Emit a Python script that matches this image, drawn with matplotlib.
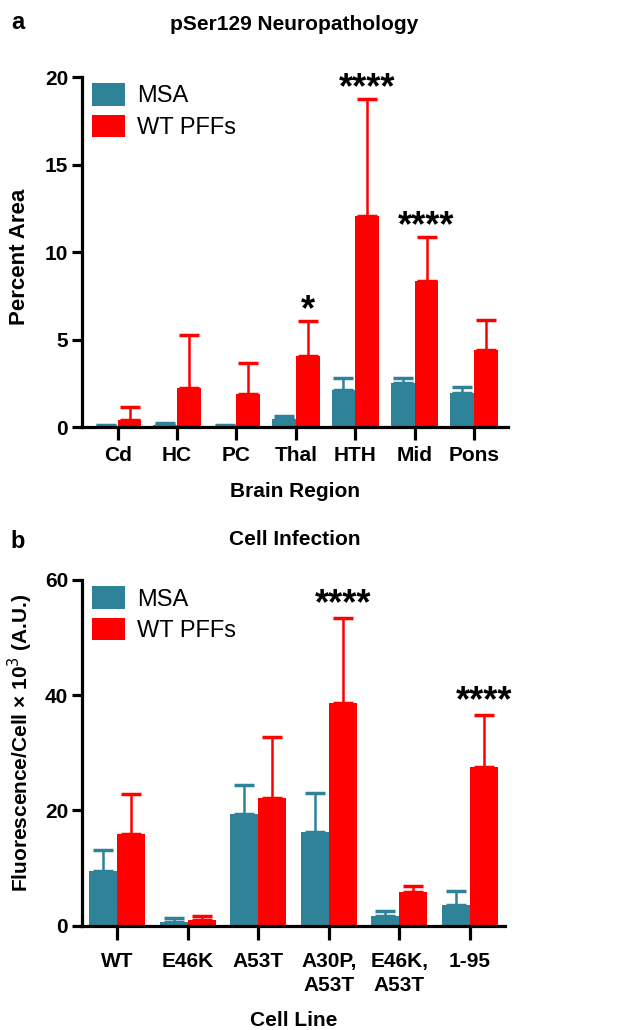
import numpy as np
import matplotlib.pyplot as plt

plt.rcParams['font.family'] = ['Liberation Sans', 'DejaVu Sans']

TEAL = '#2E8399'
RED = '#FF0000'

# panel a: pSer129 neuropathology
regions = ['Cd', 'HC', 'PC', 'Thal', 'HTH', 'Mid', 'Pons']
msa_a = [0.05, 0.1, 0.05, 0.44, 2.1, 2.5, 1.96]
msa_a_err = [0.05, 0.12, 0.07, 0.19, 0.68, 0.32, 0.34]
pff_a = [0.38, 2.21, 1.89, 4.08, 12.06, 8.34, 4.4]
pff_a_err = [0.76, 3.05, 1.78, 1.98, 6.66, 2.5, 1.71]
stars_a = ['', '', '', '*', '****', '****', '']

# panel b: cell infection
cell_lines = ['WT', 'E46K', 'A53T', 'A30P,\nA53T', 'E46K,\nA53T', '1-95']
msa_b = [9.5, 0.7, 19.3, 16.3, 1.6, 3.5]
msa_b_err = [3.6, 0.7, 5.1, 6.8, 0.9, 2.5]
pff_b = [15.9, 1.0, 22.2, 38.6, 5.85, 27.6]
pff_b_err = [6.9, 0.7, 10.6, 14.8, 0.95, 9.0]
stars_b = ['', '', '', '****', '', '****']


def bar_panel(ax, cats, msa, msa_err, pff, pff_err, stars, ymax, yticks, star_off):
    x = np.arange(len(cats))
    w = 0.4
    ekw = dict(elinewidth=1.8, capthick=2.5)
    ax.bar(x - w / 2, msa, w, color=TEAL, label='MSA',
           yerr=[np.zeros(len(msa)), msa_err], ecolor=TEAL, capsize=7, error_kw=ekw)
    ax.bar(x + w / 2, pff, w, color=RED, label='WT PFFs',
           yerr=[np.zeros(len(pff)), pff_err], ecolor=RED, capsize=7, error_kw=ekw)
    for i, s in enumerate(stars):
        if s:
            ax.annotate(s, (x[i] + w / 2, pff[i] + pff_err[i]), xytext=(0, star_off),
                        textcoords='offset points', ha='center', va='bottom',
                        fontsize=26, fontweight='bold')
    ax.set_ylim(0, ymax)
    ax.set_yticks(yticks)
    ax.set_xticks(x)
    ax.set_xticklabels(cats, linespacing=1.3)
    for side in ['top', 'right']:
        ax.spines[side].set_visible(False)
    for side in ['left', 'bottom']:
        ax.spines[side].set_linewidth(2.3)
    ax.tick_params(axis='y', length=7, width=2.3, labelsize=15, pad=3)
    ax.tick_params(axis='x', length=9, width=2.3, labelsize=15, pad=5)
    for lab in ax.get_xticklabels() + ax.get_yticklabels():
        lab.set_fontweight('bold')
    ax.legend(loc='upper left', bbox_to_anchor=(-0.015, 1.03), frameon=False,
              fontsize=17, handlelength=1.4, handleheight=1.1,
              handletextpad=0.5, labelspacing=0.3, borderaxespad=0.3)


fig = plt.figure(figsize=(6.44, 10.3), dpi=100)

ax1 = fig.add_axes([0.1273, 0.5854, 0.6615, 0.3398])
bar_panel(ax1, regions, msa_a, msa_a_err, pff_a, pff_a_err, stars_a,
          20, [0, 5, 10, 15, 20], -5)
ax1.set_xlim(-0.6, 6.57)
ax1.set_xlabel('Brain Region', fontsize=15, fontweight='bold', labelpad=12)
ax1.set_ylabel('Percent Area', fontsize=16, fontweight='bold')
ax1.yaxis.set_label_coords(-0.122, 0.485)
fig.text(0.457, 0.976, 'pSer129 Neuropathology', ha='center', va='center',
         fontsize=15, fontweight='bold')
fig.text(0.027, 0.978, 'a', ha='center', va='center', fontsize=17, fontweight='bold')

ax2 = fig.add_axes([0.1273, 0.1013, 0.6568, 0.3356])
bar_panel(ax2, cell_lines, msa_b, msa_b_err, pff_b, pff_b_err, stars_b,
          60, [0, 20, 40, 60], -3)
ax2.set_xlim(-0.5, 5.5)
ax2.tick_params(axis='x', length=10, pad=9)
ax2.set_xlabel('Cell Line', fontsize=15, fontweight='bold', labelpad=12)
ax2.set_ylabel('Fluorescence/Cell × 10$^3$ (A.U.)', fontsize=15,
               fontweight='bold')
ax2.yaxis.set_label_coords(-0.111, 0.53)
fig.text(0.457, 0.476, 'Cell Infection', ha='center', va='center',
         fontsize=15, fontweight='bold')
fig.text(0.027, 0.474, 'b', ha='center', va='center', fontsize=17, fontweight='bold')

fig.savefig('out.png', dpi=100)
